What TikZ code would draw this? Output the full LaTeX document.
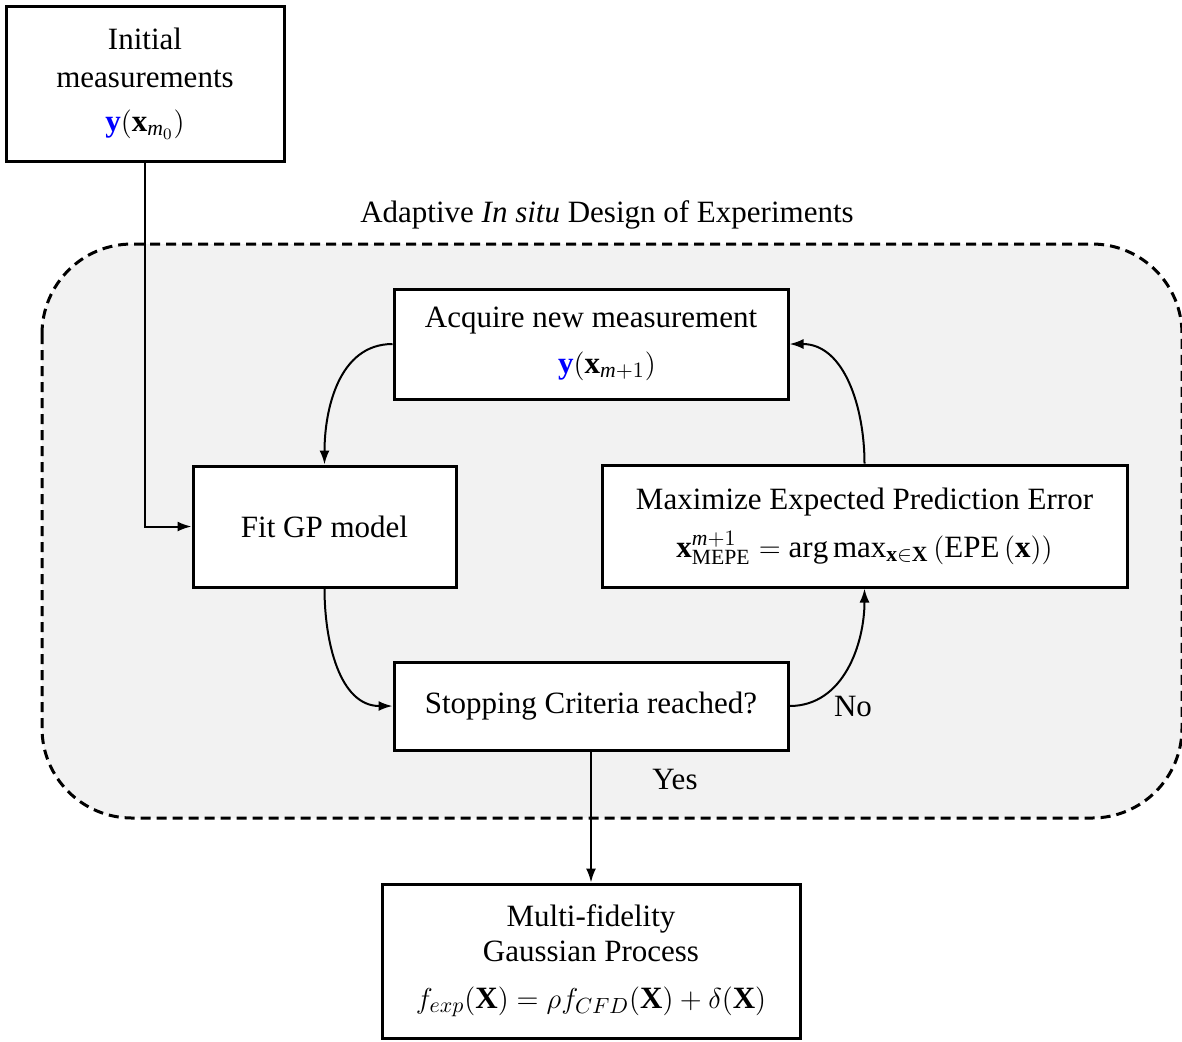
\documentclass[tikz,border=0pt]{standalone}
\usepackage{fontspec}
\setmainfont{Liberation Serif}
\setmathrm{Liberation Serif}
\usetikzlibrary{arrows.meta}
\definecolor{panelgray}{RGB}{242,242,242}
\newcommand{\myit}[1]{\mathit{#1}}
\tikzset{
  box/.style={draw, line width=1.5pt, fill=white, align=center, inner sep=0pt, font=\fontsize{15.5}{19}\selectfont},
  arr/.style={line width=1pt, -{Latex[length=7pt,width=5pt]}},
  lbl/.style={font=\fontsize{15.5}{19}\selectfont, inner sep=0pt}
}
\begin{document}
\begin{tikzpicture}[x=0.5pt,y=-0.5pt]
\useasboundingbox (0,0) rectangle (1182,1041);
\draw[line width=1.5pt, dash pattern=on 5pt off 3pt, fill=panelgray, rounded corners=45pt] (42,244) rectangle (1182,818);
\node[lbl] (title) at (607,215) {Adaptive \textit{In situ} Design of Experiments};
\node[box, minimum width=139pt, minimum height=77.5pt] (init) at (145,83.5)
  {Initial\\measurements\\[3pt]$\textcolor{blue}{\mathbf{y}}(\mathbf{x}_{\myit{m}_0})$};
\node[box, minimum width=197pt, minimum height=55pt] (acq) at (591,344)
  {Acquire new measurement\\[4pt]\hspace*{16pt}$\textcolor{blue}{\mathbf{y}}(\mathbf{x}_{\myit{m}+1})$};
\node[box, minimum width=131.5pt, minimum height=60.5pt] (fit) at (324.5,526.5) {Fit GP model};
\node[box, minimum width=262.5pt, minimum height=61pt] (maxi) at (864.5,526)
  {Maximize Expected Prediction Error\\[5pt]$\mathbf{x}^{\myit{m}+1}_{\mathrm{MEPE}} = \mathrm{arg}\,\mathrm{max}_{\mathbf{x}\in\mathbf{X}}\left(\mathrm{EPE}\left(\mathbf{x}\right)\right)$};
\node[box, minimum width=197pt, minimum height=44pt] (stop) at (591,706) {Stopping Criteria reached?};
\node[box, minimum width=209pt, minimum height=77pt, font=\fontsize{15.5}{17.5}\selectfont] (mf) at (591,961)
  {Multi-fidelity\\Gaussian Process\\[6pt]$f_{exp}(\mathbf{X}) = \rho f_{CFD}(\mathbf{X}) + \delta(\mathbf{X})$};
\draw[arr] (init.south) |- (fit.west);
\draw[arr] (acq.west) to[out=180,in=90] (fit.north);
\draw[arr] (fit.south) to[out=-90,in=180] (stop.west);
\draw[arr] (stop.east) to[out=0,in=-90] (maxi.south);
\draw[arr] (maxi.north) to[out=90,in=0] (acq.east);
\draw[arr] (stop.south) -- (mf.north);
\node[lbl] (no) at (853,706) {No};
\node[lbl] (yes) at (675,779) {Yes};
\end{tikzpicture}
\end{document}
